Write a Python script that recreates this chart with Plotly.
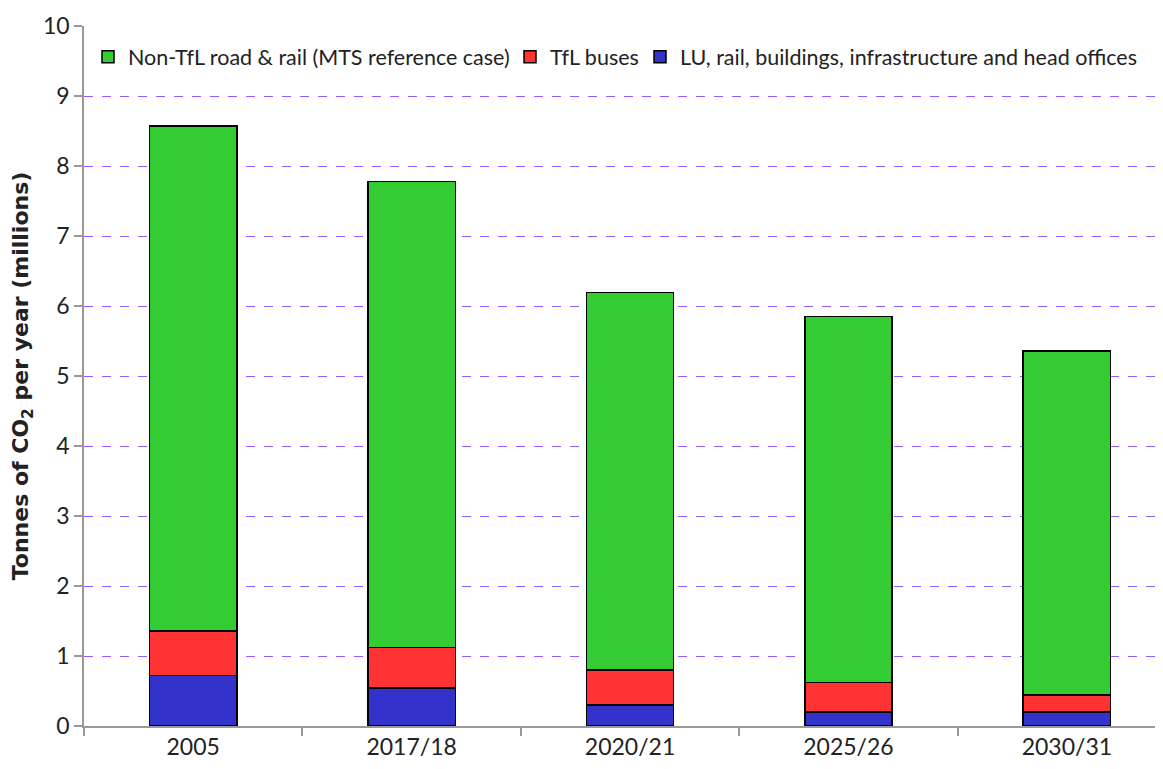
import plotly.graph_objects as go

years = ["2005", "2017/18", "2020/21", "2025/26", "2030/31"]
lu_rail = [0.72, 0.54, 0.30, 0.20, 0.20]
tfl_buses = [0.64, 0.58, 0.50, 0.42, 0.24]
non_tfl = [7.21, 6.66, 5.39, 5.23, 4.92]

font = "Lato, 'Open Sans', sans-serif"
edge = dict(color="black", width=1.5)

fig = go.Figure()
# bottom of the stack first; one legend per series so they sit side by side like the original
fig.add_trace(go.Bar(x=years, y=lu_rail, name="LU, rail, buildings, infrastructure and head offices",
                     marker=dict(color="#3333CC", line=edge), legend="legend3"))
fig.add_trace(go.Bar(x=years, y=tfl_buses, name="TfL buses",
                     marker=dict(color="#FF3333", line=edge), legend="legend2"))
fig.add_trace(go.Bar(x=years, y=non_tfl, name="Non-TfL road & rail (MTS reference case)",
                     marker=dict(color="#33CC33", line=edge), legend="legend"))

plot_w = 1079  # 1155 - 76
def px(x):
    return (x - 84) / plot_w

leg = dict(orientation="h", yanchor="middle", y=0.956, xanchor="left",
           font=dict(size=21.5), bgcolor="rgba(0,0,0,0)", itemwidth=30)

# page body has an 8px margin, so the offsets are trimmed by 8
fig.update_layout(
    barmode="stack",
    bargap=0.6,
    showlegend=True,
    width=1155, height=761,
    margin=dict(l=76, r=0, t=18, b=43, autoexpand=False),
    plot_bgcolor="white", paper_bgcolor="white",
    font=dict(family=font, size=23, color="#222222"),
    legend=dict(leg, x=px(88)),
    legend2=dict(leg, x=px(510)),
    legend3=dict(leg, x=px(640)),
    xaxis=dict(range=[-0.5, 4.44], showline=True, linecolor="#999999", linewidth=1.5,
               ticks="outside", tickson="boundaries", ticklen=8, tickcolor="#999999",
               tickwidth=1.5),
    yaxis=dict(range=[0, 10], dtick=1, showline=True, linecolor="#999999", linewidth=1.5,
               ticks="outside", ticklen=8, tickcolor="#999999", tickwidth=1.5,
               gridcolor="#8F5CFF", griddash="dash", gridwidth=1, zeroline=False,
               title=dict(text="Tonnes of CO<sub>2</sub> per year (millions)",
                          font=dict(family="'DejaVu Sans', sans-serif", size=22, weight="bold"),
                          standoff=12)),
)

fig.write_html("out.html")
